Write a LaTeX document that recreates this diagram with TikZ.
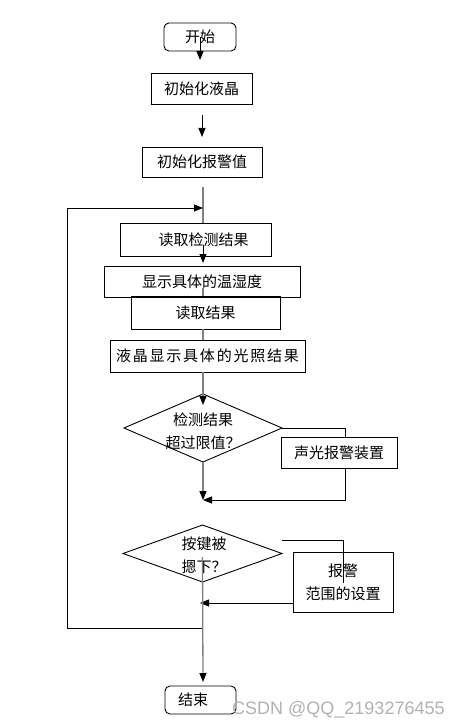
\documentclass[tikz,border=0pt]{standalone}
\usepackage{fontspec}
\setsansfont{Liberation Sans}
\newfontfamily\cjk{Noto Sans CJK SC}
\newfontfamily\cjkwide[LetterSpace=12]{Noto Sans CJK SC}
\usetikzlibrary{shapes.geometric,arrows.meta,calc}

\begin{document}
\begin{tikzpicture}[x=1pt,y=-1pt,
	box/.style={draw=black,line width=0.9pt,inner sep=0pt,outer sep=0pt,align=center,font=\cjk\fontsize{15}{23}\selectfont},
	terminal/.style={box,rounded corners=5pt},
	decision/.style={draw=black,diamond,line width=0.9pt,inner sep=0pt,outer sep=0pt},
	txt/.style={align=center,inner sep=0pt,font=\cjk\fontsize{15}{23}\selectfont},
	link/.style={draw=black,line width=0.9pt},
	flow/.style={draw=black!50,line width=1.3pt},
	arr/.style={-{Triangle[length=9pt,width=7pt,color=black]}},
	watermark/.style={inner sep=0pt,text=black!30,font=\sffamily\fontsize{18}{18}\selectfont}]

	\fill[white] (0,0) rectangle (462,727);
	\useasboundingbox (0,0) rectangle (462,727);

	% boxes
	\node[terminal,minimum width=72pt,minimum height=28pt] (start) at (200,37) {开始};
	\node[box,minimum width=101pt,minimum height=31pt] (initlcd) at (201.5,88.5) {初始化液晶};
	\node[box,minimum width=120pt,minimum height=30pt] (initalarm) at (202,162) {初始化报警值};
	\node[box,minimum width=151pt,minimum height=33pt] (readdet) at (195.5,239.5) {\hspace*{16pt}读取检测结果};
	\node[box,minimum width=196pt,minimum height=31pt] (showth) at (202,281.5) {显示具体的温湿度};
	\node[box,minimum width=149pt,minimum height=33pt] (readres) at (205.5,312.5) {读取结果};
	\node[box,minimum width=195pt,minimum height=32pt] (showlight) at (207.5,356) {\cjkwide 液晶显示具体的光照结果};
	\node[box,minimum width=116pt,minimum height=31pt] (alarmdev) at (339,452.5) {声光报警装置};
	\node[box,minimum width=100pt,minimum height=60pt] (setrange) at (343,582) {报警\\范围的设置};
	\node[terminal,minimum width=71pt,minimum height=28pt] (stop) at (200.5,700) {结束\hspace*{15pt}};

	% decisions
	\node[decision,minimum width=158pt,minimum height=68pt] (check) at (203,428) {};
	\node[txt] (checktext) at (203,431) {检测结果\\超过限值？};
	\node[decision,minimum width=159pt,minimum height=57pt] (key) at (202.5,553.5) {};
	\node[txt] (keytext) at (204,555) {按键被\\摁下？};

	% watermark
	\node[watermark,anchor=base west] (csdn) at (232,714) {CSDN @QQ\_2193276455};

	% help points
	\coordinate (spine) at (203,0);
	\coordinate (join) at (203,208); % loop enters here
	\coordinate (back) at (67,628); % loop leaves here
	\coordinate (merge) at (203,500); % both branches meet

	% links
	\draw[link,arr] (start.center) -- ($(start.south)+(0,9)$); % start to lcd init
	\draw[link,arr] ($(initlcd.south)+(0.5,11)$) -- ($(initalarm.north)+(0,-10)$); % lcd init to alarm init
	\draw[flow] ($(spine |- initalarm.south)+(0,10)$) -- (spine |- readdet.north); % alarm init to read
	\draw[link,arr] (spine |- back) -- (back) -- (back |- join) -- (join); % loop back
	\draw[link,arr] ($(spine |- readdet.center)+(0,5)$) -- ($(spine |- showth.north)+(0,-3)$); % read to show
	\draw[flow] ($(spine |- showth.center)+(0,6.5)$) -- (spine |- readres.north); % show to read result
	\draw[flow] (spine |- readres.south) -- (spine |- showlight.north); % read result to light
	\draw[flow,arr] (spine |- showlight.south) -- ($(check.north)+(0,11)$); % light to check
	\draw[link] (check.east) -| ($(alarmdev.north)+(6,0)$); % check to alarm device
	\draw[link,arr] ($(alarmdev.south)+(6,0)$) |- (merge); % alarm device back
	\draw[flow,arr] (check.south) -- (merge); % check down
	\draw[link] ($(key.east)+(0,-13.5)$) -| ($(setrange.north)+(0,31)$); % key to range setting
	\draw[link,arr] ($(setrange.west)+(0,21)$) -- ($(spine |- setrange.west)+(-3,21)$); % range setting back
	\draw[flow,arr] ($(key.center)+(0,3.5)$) -- ($(spine |- stop.north)+(0,-4)$); % key to end

\end{tikzpicture}
\end{document}
